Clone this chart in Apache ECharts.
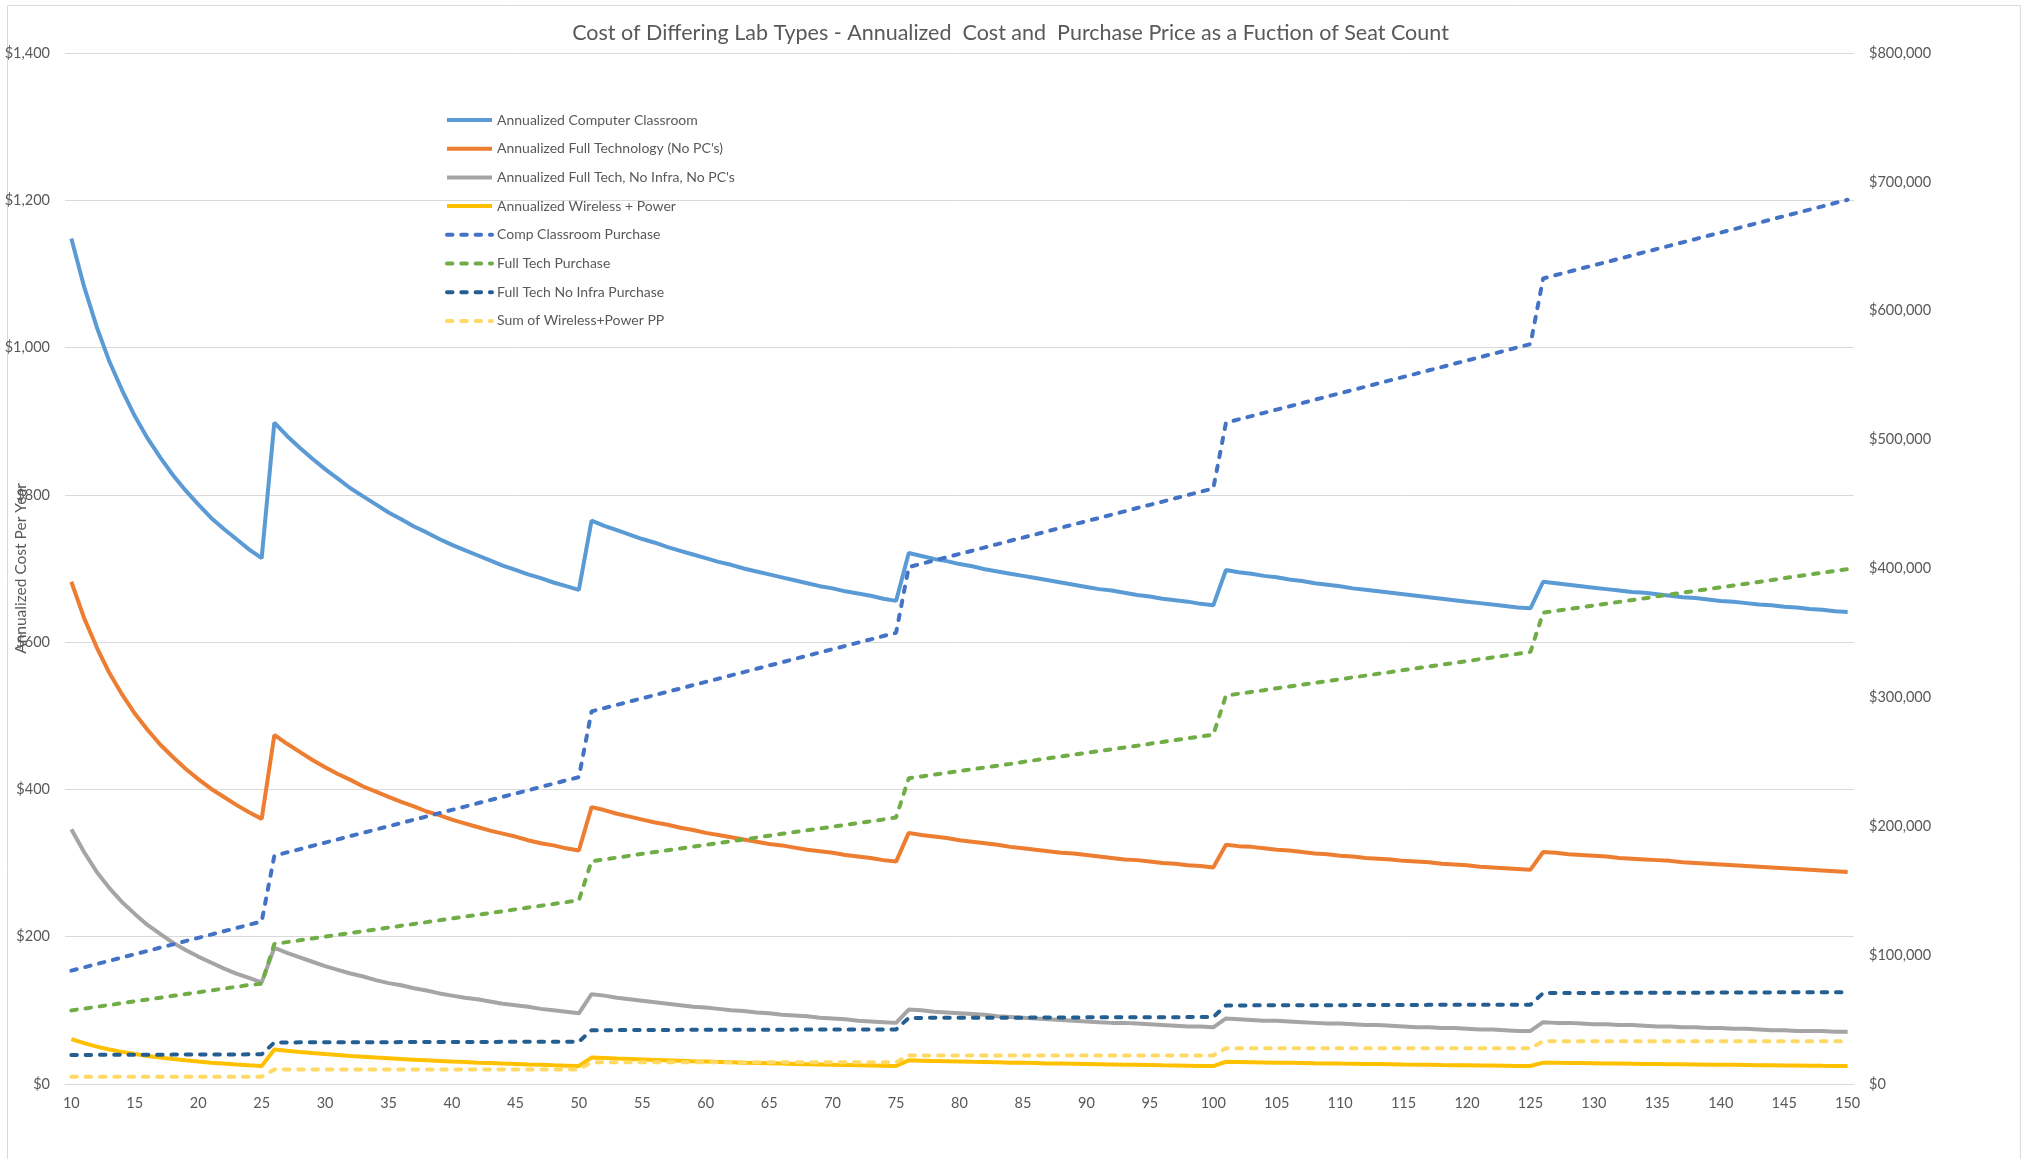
<!DOCTYPE html>
<html>
<head>
<meta charset="utf-8">
<title>Cost of Differing Lab Types</title>
<script src="https://cdn.jsdelivr.net/npm/echarts@6/dist/echarts.min.js"></script>
<style>
  html, body { margin: 0; padding: 0; background: #fff; }
  #chart { width: 2021px; height: 1159px; }
</style>
</head>
<body>
<div id="chart"></div>
<script>
// seat counts on the x axis
const seats = [
  10,11,12,13,14,15,16,17,18,19,20,21,22,23,24,25,26,27,28,29,30,31,32,33,34,35,36,37,38,39,40,
  41,42,43,44,45,46,47,48,49,50,51,52,53,54,55,56,57,58,59,60,61,62,63,64,65,66,67,68,69,70,
  71,72,73,74,75,76,77,78,79,80,81,82,83,84,85,86,87,88,89,90,91,92,93,94,95,96,97,98,99,100,
  101,102,103,104,105,106,107,108,109,110,111,112,113,114,115,116,117,118,119,120,
  121,122,123,124,125,126,127,128,129,130,131,132,133,134,135,136,137,138,139,140,
  141,142,143,144,145,146,147,148,149,150
];

// annualized cost per seat per year (left axis)
const annualComputer = [
  1148,1083,1028,981,942,907,877,851,827,806,787,769,754,740,726,714,
  898,880,864,849,835,822,809,798,787,776,767,757,749,740,732,725,718,711,704,698,692,687,681,676,671,
  765,758,752,746,740,735,729,724,719,714,709,705,700,696,692,688,684,680,676,673,669,666,663,659,656,
  721,717,713,710,706,703,699,696,693,690,687,684,681,678,675,672,670,667,664,662,659,657,655,652,650,
  698,695,693,690,688,685,683,680,678,676,673,671,669,667,665,663,661,659,657,655,653,651,649,647,646,
  682,680,678,676,674,672,670,668,667,665,663,661,660,658,656,655,653,651,650,648,647,645,644,642,641
];
const annualFullTech = [
  682,633,593,558,529,503,481,461,444,428,414,401,390,379,369,360,
  474,462,451,440,430,421,413,404,397,390,383,377,370,365,359,354,349,344,340,336,331,327,324,320,317,
  376,372,367,363,359,355,352,348,345,341,338,335,332,329,326,324,321,318,316,314,311,309,307,304,302,
  341,338,336,334,331,329,327,325,322,320,318,316,314,313,311,309,307,305,304,302,300,299,297,296,294,
  325,323,322,320,318,317,315,313,312,310,309,307,306,305,303,302,301,299,298,297,295,294,293,292,291,
  315,314,312,311,310,309,307,306,305,304,303,301,300,299,298,297,296,295,294,293,292,291,290,289,288
];
const annualNoInfra = [
  346,315,288,266,247,231,216,204,192,182,173,165,157,150,144,138,
  185,178,172,166,160,155,150,146,141,137,134,130,127,123,120,117,115,112,109,107,105,102,100,98,96,
  122,120,117,115,113,111,109,107,105,104,102,100,99,97,96,94,93,92,90,89,88,86,85,84,83,
  101,100,98,97,96,95,94,92,91,90,89,88,87,86,85,84,83,83,82,81,80,79,78,78,77,
  89,88,87,86,86,85,84,83,82,82,81,80,80,79,78,77,77,76,76,75,74,74,73,72,72,
  84,83,83,82,81,81,80,80,79,78,78,77,77,76,76,75,75,74,73,73,72,72,72,71,71
];
const annualWireless = [
  61,55.5,50.8,46.9,43.6,40.7,38.1,35.9,33.9,32.1,30.5,29,27.7,26.5,25.4,24.4,
  46.9,45.2,43.6,42.1,40.7,39.4,38.1,37,35.9,34.9,33.9,33,32.1,31.3,30.5,29.8,29,28.4,27.7,27.1,26.5,26,25.4,24.9,24.4,
  35.9,35.2,34.5,33.9,33.3,32.7,32.1,31.6,31,30.5,30,29.5,29,28.6,28.2,27.7,27.3,26.9,26.5,26.1,25.8,25.4,25.1,24.7,24.4,
  32.1,31.7,31.3,30.9,30.5,30.1,29.8,29.4,29,28.7,28.4,28,27.7,27.4,27.1,26.8,26.5,26.2,26,25.7,25.4,25.2,24.9,24.6,24.4,
  30.2,29.9,29.6,29.3,29,28.8,28.5,28.2,28,27.7,27.5,27.2,27,26.8,26.5,26.3,26.1,25.8,25.6,25.4,25.2,25,24.8,24.6,24.4,
  29,28.8,28.6,28.4,28.2,27.9,27.7,27.5,27.3,27.1,26.9,26.7,26.5,26.3,26.1,26,25.8,25.6,25.4,25.2,25.1,24.9,24.7,24.6,24.4
];

// purchase price (right axis)
const compPurchase = [
  88000,90500,93100,95600,98200,100700,103200,105800,108300,110900,113400,115900,118500,121000,123600,126100,
  177100,179700,182200,184800,187300,189800,192400,194900,197500,200000,202500,205100,207600,210200,212700,
  215200,217800,220300,222900,225400,227900,230500,233000,235600,238100,
  289100,291700,294200,296800,299300,301800,304400,306900,309500,312000,314500,317100,319600,322200,324700,
  327200,329800,332300,334900,337400,339900,342500,345000,347600,350100,
  401100,403700,406200,408800,411300,413800,416400,418900,421500,424000,426500,429100,431600,434200,436700,
  439200,441800,444300,446900,449400,451900,454500,457000,459600,462100,
  513100,515700,518200,520800,523300,525800,528400,530900,533500,536000,538500,541100,543600,546200,548700,
  551200,553800,556300,558900,561400,563900,566500,569000,571600,574100,
  625100,627700,630200,632800,635300,637800,640400,642900,645500,648000,650500,653100,655600,658200,660700,
  663200,665800,668300,670900,673400,675900,678500,681000,683600,686100
];
const fullTechPurchase = [
  57100,58500,59900,61300,62700,64200,65600,67000,68400,69800,71200,72600,74000,75400,76800,77800,
  108700,110100,111500,112900,114300,115700,117100,118500,119900,121400,122800,124200,125600,127000,128400,
  129800,131200,132600,134000,135500,136900,138300,139700,141100,142500,
  172900,174300,175700,177100,178600,180000,181400,182800,184200,185600,187000,188400,189800,191200,192700,
  194100,195500,196900,198300,199700,201100,202500,203900,205300,206800,
  237200,238600,240000,241400,242800,244200,245600,247000,248400,249900,251300,252700,254100,255500,256900,
  258300,259700,261100,262500,264000,265400,266800,268200,269600,271000,
  301400,302800,304200,305600,307100,308500,309900,311300,312700,314100,315500,316900,318300,319700,321200,
  322600,324000,325400,326800,328200,329600,331000,332400,333800,335300,
  365700,367100,368500,369900,371300,372700,374100,375500,376900,378400,379800,381200,382600,384000,385400,
  386800,388200,389600,391000,392500,393900,395300,396700,398100,399500
];
const noInfraPurchase = [
  22500,22500,22600,22600,22600,22700,22700,22700,22800,22800,22800,22900,22900,22900,23000,23000,
  32200,32200,32300,32300,32300,32300,32400,32400,32400,32400,32500,32500,32500,32500,32600,32600,32600,32600,
  32700,32700,32700,32700,32800,32800,32800,
  41800,41800,41800,41900,41900,41900,41900,42000,42000,42000,42000,42100,42100,42100,42100,42100,42200,42200,
  42200,42200,42200,42300,42300,42300,42300,
  51300,51300,51400,51400,51400,51400,51500,51500,51500,51500,51600,51600,51600,51600,51700,51700,51700,51700,
  51800,51800,51800,51800,51900,51900,51900,
  61000,61000,61000,61100,61100,61100,61100,61200,61200,61200,61200,61300,61300,61300,61300,61300,61400,61400,
  61400,61400,61400,61500,61500,61500,61500,
  70600,70600,70700,70700,70700,70700,70800,70800,70800,70800,70900,70900,70900,70900,71000,71000,71000,71000,
  71100,71100,71100,71100,71200,71200,71200
];
const wirelessPurchase = [
  5700,5700,5700,5700,5700,5700,5700,5700,5700,5700,5700,5700,5700,5700,5700,5700,
  11300,11300,11300,11300,11300,11300,11300,11300,11300,11300,11300,11300,11300,11300,11300,11300,11300,
  11300,11300,11300,11300,11300,11300,11300,11300,
  16800,16800,16800,16800,16800,16800,16800,16800,16800,16800,16800,16800,16800,16800,16800,16800,16800,
  16800,16800,16800,16800,16800,16800,16800,16800,
  22200,22200,22200,22200,22200,22200,22200,22200,22200,22200,22200,22200,22200,22200,22200,22200,22200,
  22200,22200,22200,22200,22200,22200,22200,22200,
  27700,27700,27700,27700,27700,27700,27700,27700,27700,27700,27700,27700,27700,27700,27700,27700,27700,
  27700,27700,27700,27700,27700,27700,27700,27700,
  33200,33200,33200,33200,33200,33200,33200,33200,33200,33200,33200,33200,33200,33200,33200,33200,33200,
  33200,33200,33200,33200,33200,33200,33200,33200
];

const FONT = "Lato, 'Open Sans', sans-serif";
const TEXT = "#595959";
const money = (v) => "$" + v.toLocaleString("en-US");

function line(name, data, color, dashed, axis) {
  return {
    name: name,
    type: "line",
    yAxisIndex: axis,
    data: data,
    symbol: "none",
    showSymbol: false,
    smooth: false,
    lineStyle: dashed
      ? { color: color, width: 4, type: [5.5, 8.8], cap: "round" }
      : { color: color, width: 4, type: "solid" },
    itemStyle: { color: color },
    emphasis: { disabled: true },
  };
}

const chart = echarts.init(document.getElementById("chart"), null, { renderer: "canvas" });

chart.setOption({
  animation: false,
  backgroundColor: "#fff",
  textStyle: { fontFamily: FONT, color: TEXT },
  title: {
    text: "Cost of Differing Lab Types - Annualized  Cost and  Purchase Price as a Fuction of Seat Count",
    left: "center",
    top: 17,
    textStyle: { fontFamily: FONT, fontSize: 21.5, fontWeight: "normal", color: TEXT },
  },
  legend: {
    orient: "vertical",
    left: 440,
    top: 108,
    itemWidth: 45,
    itemHeight: 14,
    itemGap: 14.7,
    itemStyle: { opacity: 0 },
    lineStyle: { width: 4 },
    textStyle: { fontFamily: FONT, fontSize: 14, color: TEXT },
    data: [
      "Annualized Computer Classroom",
      "Annualized Full Technology (No PC's)",
      "Annualized Full Tech, No Infra, No PC's",
      "Annualized Wireless + Power",
      "Comp Classroom Purchase",
      "Full Tech Purchase",
      "Full Tech No Infra Purchase",
      "Sum of Wireless+Power PP",
    ],
  },
  grid: { left: 65, right: 167, top: 53, bottom: 75, containLabel: false, outerBoundsMode: "none" },
  xAxis: {
    type: "category",
    data: seats,
    boundaryGap: true,
    axisLine: { show: true, lineStyle: { color: "#d9d9d9", width: 1 } },
    axisTick: { show: false },
    axisLabel: { interval: 4, margin: 12, fontSize: 14.5, color: TEXT, fontFamily: FONT },
  },
  yAxis: [
    {
      type: "value",
      min: 0,
      max: 1400,
      interval: 200,
      name: "Annualized Cost Per Year",
      nameLocation: "middle",
      nameGap: 36,
      nameMoveOverlap: false,
      nameTextStyle: { fontSize: 15.5, color: TEXT, fontFamily: FONT },
      axisLine: { show: false },
      axisTick: { show: false },
      axisLabel: { margin: 15, fontSize: 14.5, color: TEXT, formatter: money },
      splitLine: { show: true, lineStyle: { color: "#d9d9d9", width: 1 } },
    },
    {
      type: "value",
      min: 0,
      max: 800000,
      interval: 100000,
      position: "right",
      axisLine: { show: false },
      axisTick: { show: false },
      axisLabel: { margin: 15, fontSize: 14.5, color: TEXT, formatter: money },
      splitLine: { show: false },
    },
  ],
  graphic: [
    {
      type: "rect",
      left: 5,
      top: 3,
      shape: { width: 2013, height: 1160 },
      style: { fill: null, stroke: "#d9d9d9", lineWidth: 1 },
      silent: true,
      z: -1,
    },
  ],
  series: [
    line("Annualized Computer Classroom", annualComputer, "#5B9BD5", false, 0),
    line("Annualized Full Technology (No PC's)", annualFullTech, "#ED7D31", false, 0),
    line("Annualized Full Tech, No Infra, No PC's", annualNoInfra, "#A5A5A5", false, 0),
    line("Annualized Wireless + Power", annualWireless, "#FFC000", false, 0),
    line("Comp Classroom Purchase", compPurchase, "#4472C4", true, 1),
    line("Full Tech Purchase", fullTechPurchase, "#70AD47", true, 1),
    line("Full Tech No Infra Purchase", noInfraPurchase, "#255E91", true, 1),
    line("Sum of Wireless+Power PP", wirelessPurchase, "#FFD966", true, 1),
  ],
});

window.addEventListener("resize", () => chart.resize());
</script>
</body>
</html>
